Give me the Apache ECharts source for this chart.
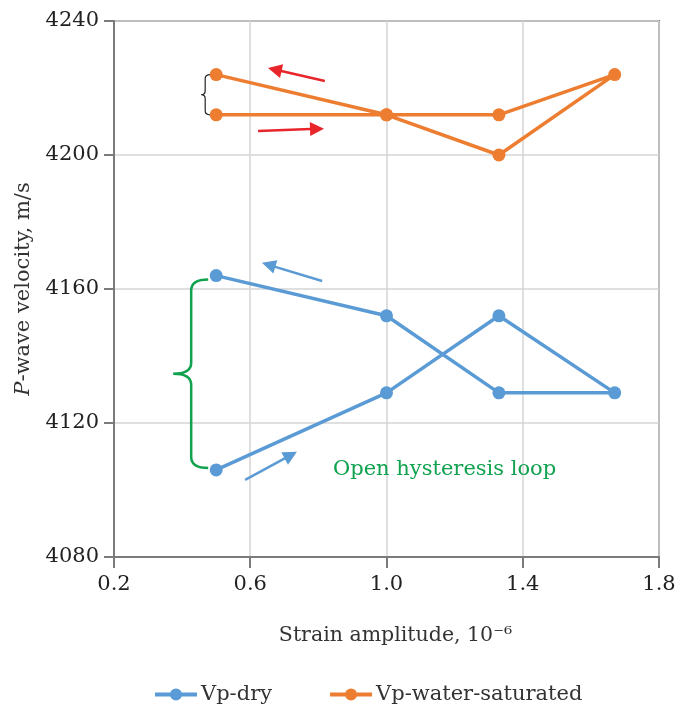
<!DOCTYPE html>
<html>
<head>
<meta charset="utf-8">
<script src="https://cdn.jsdelivr.net/npm/echarts@6/dist/echarts.min.js"></script>
<style>
  html, body { margin: 0; padding: 0; background: #fff; }
  #chart { width: 680px; height: 708px; }
</style>
</head>
<body>
<div id="chart"></div>
<script>
// Strain amplitude (10^-6) along the loading/unloading path
const strainPath = [0.5, 1.0, 1.33, 1.67, 1.33, 1.0, 0.5];
// P-wave velocity, m/s
const vpDry = [4106, 4129, 4152, 4129, 4129, 4152, 4164];
const vpWaterSaturated = [4212, 4212, 4212, 4224, 4200, 4212, 4224];
const seriesNames = ['Vp-dry', 'Vp-water-saturated'];

// Axis ranges
const xMin = 0.2, xMax = 1.8, xStep = 0.4;
const yMin = 4080, yMax = 4240, yStep = 40;

// Direction arrows (data units): [fromX, fromY, toX, toY]
const arrowsWater = [[0.819, 4222.1, 0.672, 4225.5], [0.623, 4207.2, 0.796, 4207.8]];
const arrowsDry = [[0.811, 4162.4, 0.654, 4167.2], [0.585, 4103.0, 0.719, 4110.4]];
const loopLabel = 'Open hysteresis loop';
const loopLabelAt = [0.843, 4106];

const FONT = '"DejaVu Serif", "Liberation Serif", serif';
const BLUE = '#5B9BD5', ORANGE = '#ED7D31', RED = '#E8252A', GREEN = '#10A24E';
const AXIS_GREY = '#7b7b7d';

function pairs(xs, ys) { return xs.map((x, i) => [x, ys[i]]); }

// Brace spanning the start and end of each loop, on the left of the first point
function braceItem(ys) {
  return [strainPath[0], Math.max(ys[0], ys[ys.length - 1]), Math.min(ys[0], ys[ys.length - 1])];
}
const braceStyles = [
  { color: GREEN, width: 2.5, end: 8, mid: 25, tip: 43, r: 11, dTop: 4, dBot: -2 },
  { color: '#222', width: 1.2, end: 6, mid: 11, tip: 15, r: 4, dTop: 0, dBot: 0 }
];

function renderBrace(params, api) {
  const s = braceStyles[params.dataIndex];
  const top = api.coord([api.value(0), api.value(1)]);
  const bot = api.coord([api.value(0), api.value(2)]);
  const px = top[0];
  const e = px - s.end, m = px - s.mid, t = px - s.tip, r = s.r;
  const y1 = top[1] + s.dTop, y2 = bot[1] + s.dBot;
  const ym = (y1 + y2) / 2;
  const d = 'M' + e + ',' + y1 +
    ' Q' + m + ',' + y1 + ' ' + m + ',' + (y1 + r) +
    ' L' + m + ',' + (ym - r) +
    ' Q' + m + ',' + ym + ' ' + t + ',' + ym +
    ' Q' + m + ',' + ym + ' ' + m + ',' + (ym + r) +
    ' L' + m + ',' + (y2 - r) +
    ' Q' + m + ',' + y2 + ' ' + e + ',' + y2;
  return {
    type: 'path',
    shape: { pathData: d },
    style: { stroke: s.color, fill: 'none', lineWidth: s.width }
  };
}

function arrowData(list, color) {
  return list.map(a => ({ coords: [[a[0], a[1]], [a[2], a[3]]], lineStyle: { color: color } }));
}

const chart = echarts.init(document.getElementById('chart'));
chart.setOption({
  animation: false,
  textStyle: { fontFamily: FONT },
  grid: {
    left: 114, right: 21, top: 21, bottom: 151,
    show: true, borderColor: AXIS_GREY, borderWidth: 2, backgroundColor: 'transparent'
  },
  legend: {
    data: seriesNames,
    left: 153, top: 684, padding: 0,
    itemWidth: 42, itemHeight: 15, itemGap: 56,
    lineStyle: { width: 4 },
    textStyle: { fontFamily: FONT, fontSize: 21, color: '#333', padding: [0, 0, 0, -1] }
  },
  xAxis: {
    type: 'value', min: xMin, max: xMax, interval: xStep,
    name: 'Strain amplitude, 10\u207B\u2076',
    nameLocation: 'middle', nameGap: 68,
    nameTextStyle: { fontFamily: FONT, fontSize: 20.5, color: '#333', padding: [0, 0, 0, 18] },
    axisLine: { show: true, lineStyle: { color: AXIS_GREY, width: 2 } },
    axisTick: { show: true, length: 11, lineStyle: { color: AXIS_GREY, width: 2 } },
    axisLabel: { fontFamily: FONT, fontSize: 21, color: '#222', margin: 17,
      formatter: v => v.toFixed(1) },
    splitLine: { show: true, lineStyle: { color: '#d4d4d4', width: 1.5 } }
  },
  yAxis: {
    type: 'value', min: yMin, max: yMax, interval: yStep,
    name: '{i|P}-wave velocity, m/s',
    nameLocation: 'middle', nameGap: 80, nameRotate: 90,
    nameTextStyle: { fontFamily: FONT, fontSize: 21, color: '#333',
      rich: { i: { fontFamily: FONT, fontStyle: 'italic', fontSize: 21, color: '#333' } } },
    axisLine: { show: true, lineStyle: { color: AXIS_GREY, width: 2 } },
    axisTick: { show: true, length: 10, lineStyle: { color: AXIS_GREY, width: 2 } },
    axisLabel: { fontFamily: FONT, fontSize: 21, color: '#222', margin: 15,
      formatter: v => String(v) },
    splitLine: { show: true, lineStyle: { color: '#d4d4d4', width: 1.5 } }
  },
  series: [
    {
      name: seriesNames[0], type: 'line', data: pairs(strainPath, vpDry),
      color: BLUE, symbol: 'circle', symbolSize: 13, showSymbol: true,
      lineStyle: { width: 3.5, color: BLUE }, itemStyle: { color: BLUE }, z: 3
    },
    {
      name: seriesNames[1], type: 'line', data: pairs(strainPath, vpWaterSaturated),
      color: ORANGE, symbol: 'circle', symbolSize: 13, showSymbol: true,
      lineStyle: { width: 3.5, color: ORANGE }, itemStyle: { color: ORANGE }, z: 3
    },
    {
      type: 'lines', coordinateSystem: 'cartesian2d',
      symbol: ['none', 'triangle'], symbolSize: [12, 14],
      lineStyle: { width: 2.5, opacity: 1 },
      data: arrowData(arrowsWater, RED).concat(arrowData(arrowsDry, BLUE)),
      z: 4
    },
    {
      type: 'custom', renderItem: renderBrace,
      data: [braceItem(vpDry), braceItem(vpWaterSaturated)],
      z: 2, silent: true
    },
    {
      type: 'custom', silent: true, z: 4,
      data: [loopLabelAt],
      renderItem: function (params, api) {
        const p = api.coord([api.value(0), api.value(1)]);
        return {
          type: 'text', x: p[0], y: p[1],
          style: { text: loopLabel, fill: GREEN, font: '21px ' + FONT,
            align: 'left', verticalAlign: 'middle', textAlign: 'left', textVerticalAlign: 'middle' }
        };
      }
    }
  ]
});
</script>
</body>
</html>
